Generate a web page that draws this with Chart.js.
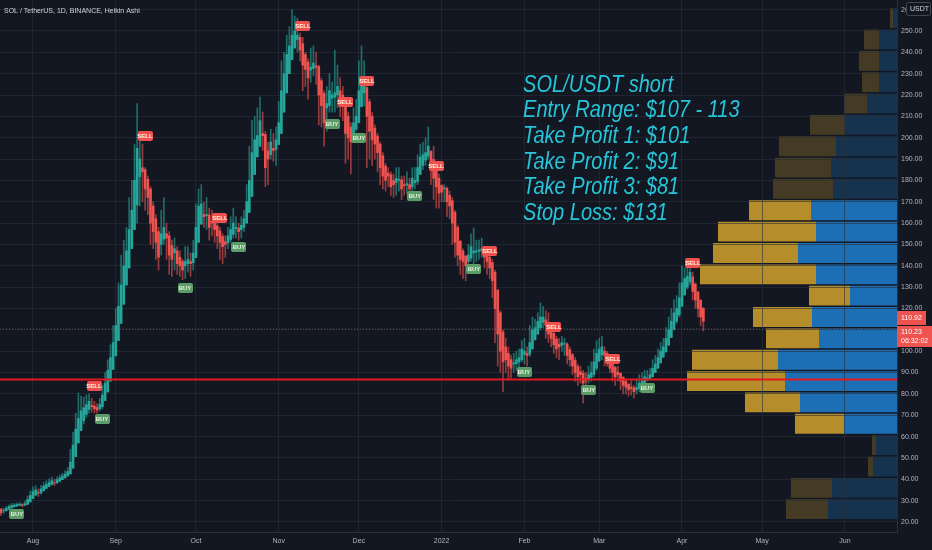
<!DOCTYPE html>
<html>
<head>
<meta charset="utf-8">
<script src="https://cdn.jsdelivr.net/npm/chart.js@4.4.0/dist/chart.umd.min.js"></script>
<style>
  html, body { margin: 0; padding: 0; background: #131722; }
  #wrap { position: relative; width: 932px; height: 550px; overflow: hidden; }
  #main { position: absolute; left: 0; top: 0; z-index: 2; }
  #vp { position: absolute; z-index: 1; }
</style>
</head>
<body>
<div id="wrap">
  <div id="vp"><canvas id="vpc"></canvas></div>
  <canvas id="main" width="932" height="550"></canvas>
</div>
<script>
// SOL/USDT daily Heikin Ashi candles, first candle on startDate
const startDate = '2021-07-20';

const opens = [
  26.0, 25.2, 25.3, 25.9, 26.5, 27.1, 27.5, 27.8, 28.1, 27.9, 28.2, 29.4,
  30.9, 32.5, 33.8, 33.6, 34.6, 35.7, 36.6, 37.5, 38.4, 38.3,
  39.0, 39.8, 40.6, 41.5, 42.5, 45.2, 50.6, 57.0, 62.8, 67.4,
  70.4, 72.7, 74.6, 74.3, 73.6, 73.0, 74.0, 76.8, 80.9, 86.0,
  91.5, 97.8, 105, 113, 122, 131, 139, 148, 157, 168.5,
  181.7, 185.9, 185, 180.5, 176, 168, 162, 156, 150, 152.5,
  155, 154, 149.5, 146, 147, 144, 142, 140, 141, 142,
  141.5, 143.8, 151, 159.5, 164, 163.5, 163.8, 160.9, 160.5, 158.7,
  156.3, 153.7, 151.3, 150.7, 152.3, 154.7, 157.4, 157.7, 156.9, 158,
  160, 165, 172.5, 182.8, 191, 196, 202, 201.5, 193.8, 192,
  195, 194.5, 196.8, 202, 212, 221, 230, 236.5, 242, 246,
  247, 244, 239, 235.5, 231.7, 232.4, 233.7, 233.3, 226.7, 220.8,
  213.9, 215, 218.5, 219, 220, 222, 220, 218, 210, 205,
  201.5, 204, 207, 214.5, 221, 223.5, 216.8, 210, 204.5, 200.8,
  197, 191.5, 186.7, 183.4, 182.7, 180, 179, 180, 180.3, 178,
  177.8, 178, 177, 179, 179.5, 182.8, 187, 189.5, 191.3, 193.6,
  189.8, 185.4, 181, 177.6, 176, 176.3, 173, 170.5, 165, 158,
  151.5, 147, 144.5, 142, 143.5, 146, 146.5, 146.8, 147, 147.5,
  145.8, 144, 141.5, 137, 128.5, 118, 109, 102, 99, 96,
  94, 94.2, 95, 96, 98.5, 99, 98.5, 101, 105.5, 108,
  111, 113.5, 114.7, 113.3, 110.7, 108.3, 105.7, 103.3, 102.7, 103.3,
  103.4, 100.7, 98.3, 95.7, 92.8, 90.4, 89.7, 87.3, 86.7, 87.8,
  89, 92, 95.5, 98.3, 100, 99, 97.5, 94.8, 92.4, 90.2,
  89.6, 87.8, 85.9, 84.5, 83.2, 82.8, 82, 82.5, 83.7, 85,
  86.5, 87, 88, 90, 92, 94.5, 97.3, 99.6, 102.8, 106.4,
  110.2, 114, 117, 121, 126.5, 130, 132.5, 134.8, 131.4, 127.7,
  123.9, 120
];
const highs = [
  26.3, 26.5, 27.3, 28.0, 28.6, 28.8, 29.0, 29.2, 28.7, 29.8, 32.2, 34.5,
  36.5, 37.0, 35.5, 37.2, 38.5, 39.3, 40.2, 41.0, 40.0, 41.2,
  42.0, 42.8, 44.0, 45.5, 54, 62, 71, 80.4, 79, 78.5,
  79.5, 80, 78, 76.5, 75.5, 78, 84, 90, 96, 103,
  112, 120, 132, 145, 152, 158, 172, 180, 197, 216,
  199, 197, 186, 182, 177, 170, 164, 158, 166, 172,
  160, 156, 152, 153, 149, 147, 143, 149, 149, 146,
  152, 169, 176, 178, 170, 172, 167, 166, 163, 160,
  158, 155, 154, 158, 163, 167, 163, 160, 163, 166,
  178, 196, 208, 210, 214, 219, 212, 203, 198, 204,
  202, 205, 217, 236, 240, 248, 252, 260, 257, 256,
  249, 247, 240, 237, 242, 243, 240, 234, 228, 222,
  224, 230, 226, 241, 234, 228, 224, 219, 212, 207,
  214, 218, 236, 243, 236, 224, 218, 212, 206, 202,
  198, 193, 188, 186, 184, 183, 186, 186, 182, 182,
  184, 181, 186, 186, 192, 197, 198, 200, 205, 194,
  196, 186, 183, 178, 178, 177, 175, 172, 166, 159,
  152, 148, 145, 150, 155, 157.7, 152, 152, 153, 149,
  147, 145, 143, 138, 129, 119, 110, 106, 102, 98,
  99, 100, 101, 105, 106, 102, 112, 116, 115, 118,
  122.6, 121, 119, 118, 112, 109, 107, 106, 107, 106,
  104, 102, 99, 97, 94, 93, 91, 90, 93, 95,
  101, 105, 106, 107, 102, 100, 98, 94.8, 93, 93,
  90, 88, 86.5, 85, 86, 84, 87, 89, 90, 91,
  91, 92, 96, 98, 101, 104, 106, 111, 116, 120,
  124, 126, 132, 140, 139, 143, 142, 137, 132, 128,
  124, 120.5
];
const lows = [
  23.0, 24.0, 25.0, 25.9, 26.5, 27.0, 27.2, 27.5, 27.0, 27.5, 28.2, 29.4,
  30.9, 32.5, 32.0, 33.0, 34.6, 35.7, 36.6, 37.5, 37.0, 38.0,
  39.0, 39.8, 40.6, 41.5, 42.5, 45.2, 50.6, 57.0, 62.8, 66.0,
  69, 71, 71.5, 71, 71, 72, 73, 76.8, 80.9, 86,
  91.5, 97.8, 105, 113, 122, 131, 139, 148, 157, 160,
  168, 170, 166, 164, 150, 148, 143, 138, 145, 150,
  143, 136, 135, 138, 136, 135, 133.5, 134, 137, 135,
  138, 143.8, 151, 159.5, 158, 157, 152, 154, 151, 148,
  143, 141, 144, 148, 151, 153, 153, 152, 153, 156,
  160, 165, 172.5, 182.8, 191, 196, 194, 177, 178, 190,
  189, 187, 196.8, 202, 212, 221, 230, 236.5, 242, 240,
  236, 222, 224, 218, 226, 229, 225, 206, 205, 196,
  203, 212, 212, 212, 214, 210, 208, 188, 190, 183,
  199, 203, 207, 214.5, 215, 186, 190, 187, 190, 184,
  178, 176, 175, 177, 173, 172, 173, 175, 171, 173,
  174, 171, 175, 176, 178, 182.8, 185, 187, 190, 178,
  171, 167, 167, 170, 170, 163, 162, 150, 144, 140,
  136, 134, 133, 139, 142, 141, 142, 143, 144, 139,
  136, 134, 125, 104, 93, 90, 81, 90, 87, 87.5,
  90, 91, 91, 95, 94, 93, 97.5, 101, 105, 108,
  110, 111, 106, 104, 102, 99, 97, 96, 100, 98,
  94, 93, 89, 86, 84, 85, 75.7, 82, 85, 86,
  88, 91, 95, 96, 93, 93, 90, 86, 84, 86,
  82, 80, 80, 79, 79.5, 78, 80, 81, 82, 84,
  86, 86.5, 88, 90, 92, 94.5, 97, 99.6, 102.8, 106.4,
  110, 113, 116, 121, 126, 129, 131, 124, 120, 116,
  112, 109.5
];
const closes = [
  24.3, 25.4, 26.4, 27.2, 27.7, 27.9, 28.2, 28.3, 27.8, 28.6, 30.6, 32.4,
  34.2, 35.0, 33.5, 35.5, 36.8, 37.6, 38.4, 39.3, 38.2, 39.8,
  40.6, 41.5, 42.4, 43.6, 48, 56, 63.5, 68.5, 72, 73.5,
  75, 76.5, 74, 73, 72.5, 75, 79.5, 85, 91, 97,
  104, 112, 121, 131, 140, 147, 157, 166, 180, 195,
  190, 184, 176, 172, 160, 156, 151, 144, 155, 158,
  153, 145, 143, 148, 141, 140, 138, 142, 143, 141,
  146, 158, 168, 169, 163, 164, 158, 160, 157, 154,
  151, 149, 150, 154, 157, 160, 158, 156, 159, 162,
  170, 180, 193, 199, 201, 208, 201, 186, 190, 198,
  194, 199, 207, 222, 230, 239, 243, 248, 250, 248,
  241, 234, 232, 228, 233, 235, 233, 220, 215, 207,
  216, 222, 220, 221, 224, 218, 216, 202, 200, 198,
  207, 210, 222, 228, 226, 210, 203, 199, 197, 193,
  186, 182, 180, 182, 177, 178, 181, 180.5, 176, 177.5,
  178.5, 176, 181, 180, 186, 191, 192, 193, 196, 186,
  181, 177, 174, 174.5, 176.5, 170, 168, 160, 151, 145,
  143, 142, 140, 145, 149, 147, 147, 147.5, 148, 144,
  142, 139, 133, 120, 108, 100, 95, 96, 93, 92,
  94.5, 96, 97, 101, 100, 98, 104, 110, 111, 114,
  116, 116, 112, 108, 106, 103, 101, 102, 104, 103.5,
  98, 96, 93, 90, 88, 89, 85, 86, 89, 90,
  95, 99, 101, 102, 98, 96, 92, 90, 88, 89,
  86, 84, 83, 82, 82.5, 81, 83, 85, 86, 88,
  87.5, 89, 92, 94, 97, 100, 102, 106, 110, 114,
  118, 120, 125, 132, 134, 135, 137, 128, 124, 120,
  116, 114
];

// time axis labels
const monthStarts = ['2021-08-01', '2021-09-01', '2021-10-01', '2021-11-01', '2021-12-01', '2022-01-01',
                     '2022-02-01', '2022-03-01', '2022-04-01', '2022-05-01', '2022-06-01'];
const monthLabels = ['Aug', 'Sep', 'Oct', 'Nov', 'Dec', '2022', 'Feb', 'Mar', 'Apr', 'May', 'Jun'];

// indicator signals
const sellDates = ['2021-08-24', '2021-09-12', '2021-10-10', '2021-11-10', '2021-11-26', '2021-12-04',
                   '2021-12-30', '2022-01-19', '2022-02-12', '2022-03-06', '2022-04-05'];
const sellPrices = [83.7, 200.6, 162.6, 252.3, 216.7, 226.6, 186.8, 147.0, 111.1, 96.2, 141.1];
const buyDates = ['2021-07-26', '2021-08-27', '2021-09-27', '2021-10-17', '2021-11-21', '2021-12-01',
                  '2021-12-22', '2022-01-13', '2022-02-01', '2022-02-25', '2022-03-19'];
const buyPrices = [23.6, 68.0, 129.4, 148.6, 206.4, 199.9, 172.7, 138.3, 90.3, 82.0, 82.8];

// levels
const supportLevel = 86.7;
const lastPriceLine = 110.4;
const lastHaPrice = '110.92';
const lastPrice = '110.23';
const countdown = '06:32:02';

// volume profile rows (row floor price, up volume, down volume)
const profileFloor = [21, 31, 41, 51, 61, 71, 81, 91, 101, 111, 121, 131, 141, 151, 161, 171, 181, 191, 201, 211, 221, 231, 241, 251];
const upVolume   = [69, 65, 24, 21, 53, 97, 112, 119, 78, 85, 47, 81, 99, 81, 86, 64, 66, 61, 52, 30, 18, 18, 18, 4];
const downVolume = [42, 41, 5, 4, 49, 55, 98, 86, 53, 59, 41, 116, 85, 98, 62, 60, 56, 57, 35, 23, 17, 20, 15, 3];
const valueArea = [61, 171];

const noteLines = ['SOL/USDT short', 'Entry Range: $107 - 113', 'Take Profit 1: $101',
                   'Take Profit 2: $91', 'Take Profit 3: $81', 'Stop Loss: $131'];

// ---------------------------------------------------------------
const DAY = 86400000;
const epoch = Date.UTC(2021, 7, 1);
const dayOf = s => (Date.parse(s + 'T00:00:00Z') - epoch) / DAY;

const firstDay = dayOf(startDate);
const candleDays = opens.map((_, i) => firstDay + i);
const xMin = firstDay - 0.35;
const xMax = dayOf('2022-06-20') + 0.5;
const yMin = 15.3, yMax = 264.5;

const UP = '#26a69a', DOWN = '#ef5350';
const isUp = closes.map((c, i) => c >= opens[i]);

const FONT = "'Liberation Sans', Arial, sans-serif";
Chart.defaults.font.family = FONT;
Chart.defaults.font.size = 7;
const GRID = 'rgba(42,46,57,0.6)';
const AXIS = '#2a2e39';
const TXT = '#b2b5be';

function tag(ctx, x, y, text, bg, fg) {
  const w = 15, h = 10;
  ctx.fillStyle = bg;
  ctx.beginPath();
  ctx.roundRect(Math.round(x - w / 2), Math.round(y - h / 2), w, h, 2);
  ctx.fill();
  ctx.fillStyle = fg;
  ctx.font = 'bold 6px ' + FONT;
  ctx.textAlign = 'center';
  ctx.textBaseline = 'middle';
  ctx.fillText(text, Math.round(x), Math.round(y) + 0.5);
}

const overlay = {
  id: 'overlay',
  afterDatasetsDraw(chart) {
    const {ctx, scales: {x, y}} = chart;
    ctx.save();
    sellDates.forEach((d, i) => tag(ctx, x.getPixelForValue(dayOf(d)), y.getPixelForValue(sellPrices[i]), 'SELL', '#f0514f', '#fff6dc'));
    buyDates.forEach((d, i) => tag(ctx, x.getPixelForValue(dayOf(d)), y.getPixelForValue(buyPrices[i]), 'BUY', '#5b9c69', '#e6f2dc'));

    // trade note (condensed italic)
    const nx = x.getPixelForValue(dayOf('2022-02-01') - 0.5);
    const ny = y.getPixelForValue(221.6);
    ctx.save();
    ctx.translate(nx, ny);
    ctx.scale(0.87, 1);
    ctx.font = 'italic 23px ' + FONT;
    ctx.fillStyle = '#26c6da';
    ctx.textAlign = 'left';
    ctx.textBaseline = 'alphabetic';
    noteLines.forEach((t, i) => ctx.fillText(t, 0, i * 25.7));
    ctx.restore();

    // symbol title
    ctx.font = '7px ' + FONT;
    ctx.fillStyle = '#d1d4dc';
    ctx.textAlign = 'left';
    ctx.textBaseline = 'middle';
    ctx.fillText('SOL / TetherUS, 1D, BINANCE, Heikin Ashi', chart.chartArea.left + 4, 11);
    ctx.restore();
  },
  afterDraw(chart) {
    const {ctx, scales: {y}} = chart;
    const left = chart.chartArea.right;
    ctx.save();
    ctx.font = '7px ' + FONT;
    ctx.textBaseline = 'middle';
    ctx.textAlign = 'left';
    // last price boxes
    const py = y.getPixelForValue(parseFloat(lastPrice));
    const top2 = Math.round(py - 3);
    ctx.fillStyle = DOWN;
    ctx.fillRect(left, top2 - 15, 29, 14);
    ctx.fillRect(left, top2, 35, 21);
    ctx.fillStyle = '#ffffff';
    ctx.fillText(lastHaPrice, left + 4, top2 - 8);
    ctx.fillText(lastPrice, left + 4, top2 + 6);
    ctx.fillText(countdown, left + 4, top2 + 15);
    // currency box
    ctx.fillStyle = '#131722';
    ctx.strokeStyle = '#434651';
    ctx.beginPath();
    ctx.roundRect(left + 9.5, 2.5, 24, 13, 2);
    ctx.fill();
    ctx.stroke();
    ctx.fillStyle = '#d1d4dc';
    ctx.fillText('USDT', left + 13, 9.5);
    ctx.restore();
  }
};

const chart = new Chart(document.getElementById('main'), {
  type: 'bar',
  data: {
    datasets: [
      {
        type: 'line',
        data: [{x: xMin, y: supportLevel}, {x: xMax, y: supportLevel}],
        borderColor: '#e3191f', borderWidth: 2, pointRadius: 0, order: 0
      },
      {
        type: 'line',
        data: [{x: xMin, y: lastPriceLine}, {x: xMax, y: lastPriceLine}],
        borderColor: 'rgba(140,105,105,0.7)', borderWidth: 1, borderDash: [1, 2], pointRadius: 0, order: 0
      },
      {
        label: 'body',
        data: candleDays.map((d, i) => ({x: d, y: [opens[i], closes[i]]})),
        backgroundColor: isUp.map(u => u ? UP : DOWN),
        grouped: false, barPercentage: 1, categoryPercentage: 1, maxBarThickness: 2,
        order: 1
      },
      {
        label: 'wick',
        data: candleDays.map((d, i) => ({x: d, y: [lows[i], highs[i]]})),
        backgroundColor: isUp.map(u => u ? 'rgba(38,166,154,0.6)' : 'rgba(239,83,80,0.6)'),
        grouped: false, barPercentage: 1, categoryPercentage: 1, maxBarThickness: 1,
        order: 2
      }
    ]
  },
  options: {
    responsive: false,
    animation: false,
    layout: {padding: 0},
    plugins: {legend: {display: false}, tooltip: {enabled: false}},
    scales: {
      x: {
        type: 'linear', min: xMin, max: xMax, offset: false,
        grid: {color: GRID, offset: false, drawTicks: false},
        border: {color: AXIS},
        ticks: {
          color: TXT, padding: 5, autoSkip: false, maxRotation: 0,
          callback: (v, i) => monthLabels[i]
        },
        afterBuildTicks: s => { s.ticks = monthStarts.map(m => ({value: dayOf(m)})); },
        afterFit: s => { s.height = 18; s.paddingLeft = 0; s.paddingRight = 0; }
      },
      y: {
        position: 'right', min: yMin, max: yMax,
        grid: {color: GRID, drawTicks: false},
        border: {color: AXIS},
        ticks: {
          stepSize: 10, includeBounds: false, autoSkip: false, color: TXT, padding: 4,
          callback: v => v.toFixed(2)
        },
        afterFit: s => { s.width = 35; s.paddingTop = 0; s.paddingBottom = 0; }
      }
    }
  },
  plugins: [overlay]
});

// volume profile, placed under the price chart's plot area
const area = chart.chartArea;
const vp = document.getElementById('vp');
vp.style.left = area.left + 'px';
vp.style.top = area.top + 'px';
const vpc = document.getElementById('vpc');
vpc.width = Math.round(area.right - area.left);
vpc.height = Math.round(area.bottom - area.top);
const inVA = profileFloor.map(f => f >= valueArea[0] && f < valueArea[1]);

new Chart(vpc, {
  type: 'bar',
  data: {
    datasets: [
      {
        data: profileFloor.map((f, i) => ({y: f + 5, x: [0, upVolume[i]]})),
        backgroundColor: inVA.map(v => v ? 'rgba(33,150,243,0.7)' : 'rgba(33,150,243,0.22)'),
        grouped: false, barPercentage: 0.93, categoryPercentage: 1
      },
      {
        data: profileFloor.map((f, i) => ({y: f + 5, x: [upVolume[i], upVolume[i] + downVolume[i]]})),
        backgroundColor: inVA.map(v => v ? 'rgba(251,192,45,0.7)' : 'rgba(251,192,45,0.22)'),
        grouped: false, barPercentage: 0.93, categoryPercentage: 1
      }
    ]
  },
  options: {
    indexAxis: 'y',
    responsive: false,
    animation: false,
    layout: {padding: 0},
    plugins: {legend: {display: false}, tooltip: {enabled: false}},
    scales: {
      x: {type: 'linear', reverse: true, min: 0, max: 897, display: false},
      y: {type: 'linear', min: yMin, max: yMax, offset: false, display: false}
    }
  }
});
</script>
</body>
</html>
